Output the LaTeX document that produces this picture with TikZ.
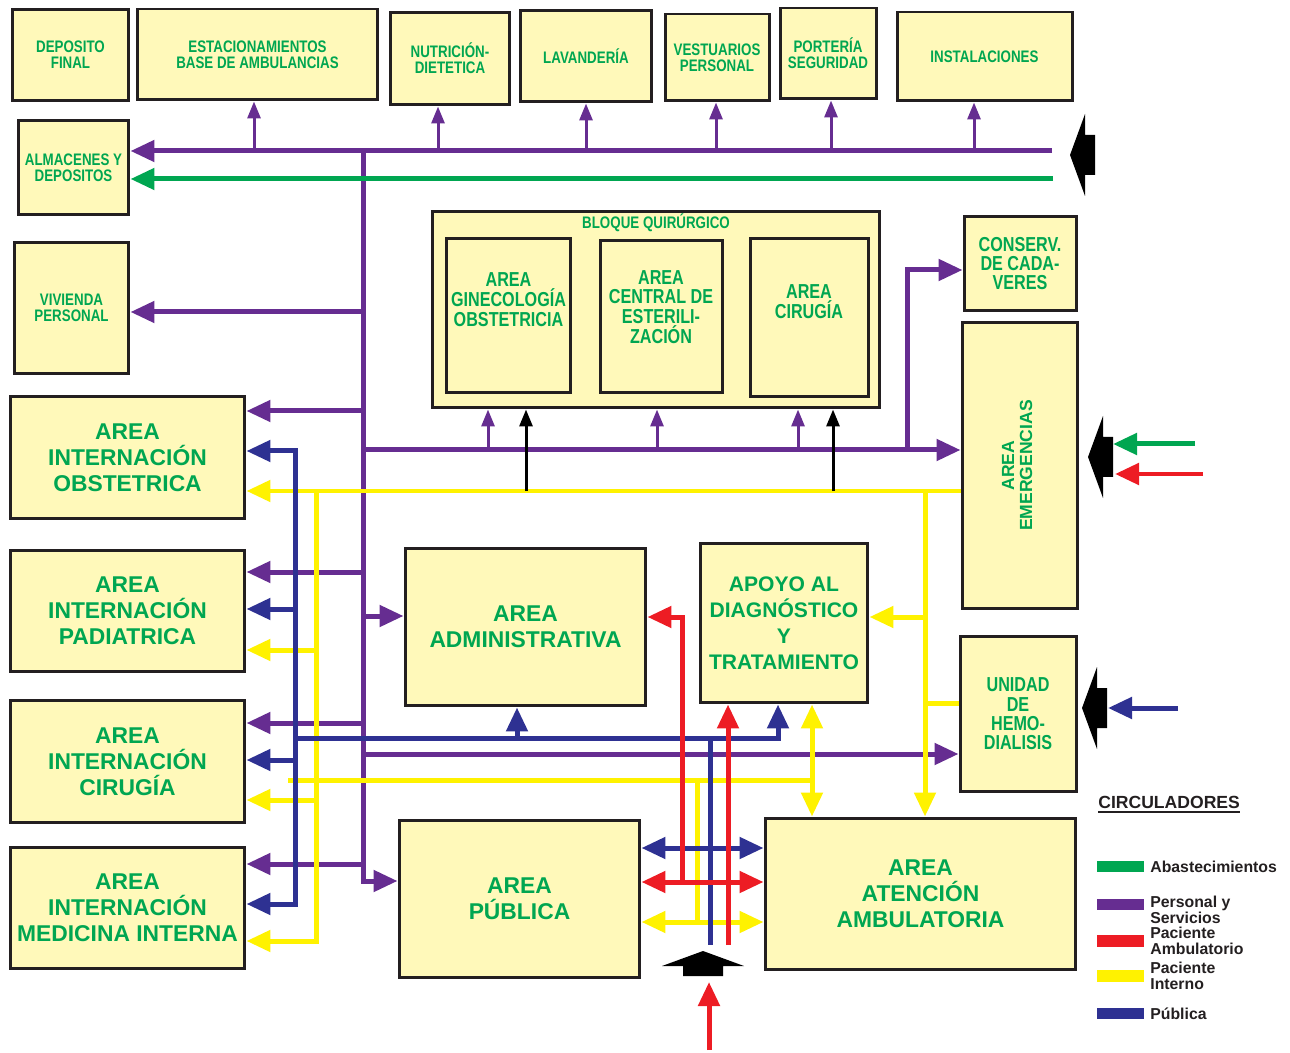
\documentclass[tikz,border=0pt]{standalone}
\usepackage{fontspec}
\setmainfont{Liberation Sans}
\newfontfamily\cond{Liberation Sans}[FakeStretch=0.8]
\usepackage{xcolor}
\usepackage{tikz}
\usetikzlibrary{arrows.meta,positioning}

\definecolor{crema}{RGB}{255,249,186}
\definecolor{borde}{RGB}{35,31,32}
\definecolor{verdetxt}{RGB}{0,166,81}
\definecolor{verde}{RGB}{0,166,81}
\definecolor{morado}{RGB}{102,45,145}
\definecolor{rojo}{RGB}{237,28,36}
\definecolor{amarillo}{RGB}{255,242,0}
\definecolor{azul}{RGB}{46,49,146}

\tikzset{
  zona/.style={draw=borde, line width=0.06cm, fill=crema, text=verdetxt, align=center,
    inner sep=1pt, font=\bfseries\fontsize{13}{14.7}\selectfont},
  zonachica/.style={zona, font=\cond\bfseries\fontsize{9.5}{9.1}\selectfont},
  zonamedia/.style={zona, font=\cond\bfseries\fontsize{11.5}{11}\selectfont},
  rotulo/.style={text=verdetxt, align=center, inner sep=0pt, font=\cond\bfseries\fontsize{11.5}{11.3}\selectfont},
  flujo/.style={line width=0.1cm},
  fino/.style={line width=0.06cm},
  punta/.style={-{Triangle[length=0.48cm,width=0.42cm]}},
  puntas/.style={{Triangle[length=0.48cm,width=0.42cm]}-{Triangle[length=0.48cm,width=0.42cm]}},
  puntita/.style={-{Triangle[length=0.34cm,width=0.26cm]}},
  barra/.style={minimum width=0.94cm, minimum height=0.23cm, inner sep=0pt, outer sep=0pt},
  leyenda/.style={text=borde, align=left, inner sep=0pt, font=\bfseries\fontsize{9}{9.2}\selectfont},
  entrada/.pic={\fill[black] (0,0) -- (15,-41) -- (15,-20) -- (25,-20) -- (25,20) -- (15,20) -- (15,41) -- cycle;}
}

\begin{document}
\begin{tikzpicture}[x=0.02cm,y=-0.02cm]
  \useasboundingbox (0,0) rectangle (1290,1053);

  \node[zonachica, minimum width=2.34cm, minimum height=1.84cm] (depfinal) at (70.5,55) {DEPOSITO\\FINAL};
  \node[zonachica, minimum width=4.82cm, minimum height=1.82cm] (estac) at (257.5,54.5) {ESTACIONAMIENTOS\\BASE DE AMBULANCIAS};
  \node[zonachica, minimum width=2.40cm, minimum height=1.86cm] (nutri) at (450,58.5) {NUTRICIÓN-\\DIETETICA};
  \node[zonachica, minimum width=2.64cm, minimum height=1.84cm] (lavand) at (586,56) {LAVANDERÍA};
  \node[zonachica, minimum width=2.08cm, minimum height=1.74cm] (vestu) at (717,57.5) {VESTUARIOS\\PERSONAL};
  \node[zonachica, minimum width=1.92cm, minimum height=1.82cm] (porte) at (828,53.5) {PORTERÍA\\SEGURIDAD};
  \node[zonachica, minimum width=3.50cm, minimum height=1.78cm] (instal) at (984.5,56.5) {INSTALACIONES};
  \node[zonachica, minimum width=2.22cm, minimum height=1.90cm] (almac) at (73.5,167.5) {ALMACENES Y\\DEPOSITOS};
  \node[zonachica, minimum width=2.30cm, minimum height=2.64cm] (vivienda) at (71.5,308) {VIVIENDA\\PERSONAL};

  \node[zona, minimum width=4.70cm, minimum height=2.46cm] (obst) at (127.5,457.5) {AREA\\INTERNACIÓN\\OBSTETRICA};
  \node[zona, minimum width=4.70cm, minimum height=2.44cm] (pedi) at (127.5,611) {AREA\\INTERNACIÓN\\PADIATRICA};
  \node[zona, minimum width=4.70cm, minimum height=2.46cm] (ciru) at (127.5,761.5) {AREA\\INTERNACIÓN\\CIRUGÍA};
  \node[zona, minimum width=4.70cm, minimum height=2.44cm] (medi) at (127.5,908) {AREA\\INTERNACIÓN\\MEDICINA INTERNA};

  \node[zona, minimum width=8.96cm, minimum height=3.94cm] (bloque) at (656,309.5) {};
  \node[rotulo, font=\cond\bfseries\fontsize{9.5}{9.1}\selectfont] (bloqueTxt) at ([yshift=-0.27cm]bloque.north) {BLOQUE QUIRÚRGICO};
  \node[zona, minimum width=2.50cm, minimum height=3.10cm] (gineco) at (508.5,315.5) {};
  \node[rotulo] (ginecoTxt) at ([yshift=0.31cm]gineco.center) {AREA\\GINECOLOGÍA\\OBSTETRICIA};
  \node[zona, minimum width=2.44cm, minimum height=3.06cm] (ceye) at (661,316.5) {};
  \node[rotulo] (ceyeTxt) at ([yshift=0.19cm]ceye.center) {AREA\\CENTRAL DE\\ESTERILI-\\ZACIÓN};
  \node[zona, minimum width=2.36cm, minimum height=3.18cm] (quirof) at (809,317.5) {};
  \node[rotulo] (quirofTxt) at ([yshift=0.31cm]quirof.center) {AREA\\CIRUGÍA};

  \node[zonamedia, minimum width=2.24cm, minimum height=1.90cm] (conserv) at (1020,263.5) {CONSERV.\\DE CADA-\\VERES};
  \node[zona, minimum width=2.30cm, minimum height=5.74cm, font=\bfseries\fontsize{10}{10.2}\selectfont] (emerg) at (1019.5,465.5)
    {\rotatebox{90}{\begin{tabular}{@{}c@{}}AREA\\EMERGENCIAS\end{tabular}}};
  \node[zona, minimum width=4.82cm, minimum height=3.16cm] (admin) at (525.5,627) {AREA\\ADMINISTRATIVA};
  \node[zona, minimum width=3.36cm, minimum height=3.20cm, font=\bfseries\fontsize{12}{14.7}\selectfont] (apoyo) at (784,623) {APOYO AL\\DIAGNÓSTICO\\Y\\TRATAMIENTO};
  \node[zonamedia, minimum width=2.32cm, minimum height=3.12cm] (hemo) at (1018,714) {UNIDAD\\DE\\HEMO-\\DIALISIS};
  \node[zona, minimum width=4.82cm, minimum height=3.16cm] (publica) at (519.5,899) {AREA\\PÚBLICA};
  \node[zona, minimum width=6.22cm, minimum height=3.04cm] (ambul) at (920.5,894) {AREA\\ATENCIÓN\\AMBULATORIA};

  % personal y servicios
  \coordinate (pE) at (1052,151);
  \coordinate (pJ) at (363,151);
  \coordinate (pB) at (363,881);
  \coordinate (pQ) at (363,450);
  \draw[flujo, morado, punta] (pE) -- (pE -| almac.east);
  \draw[flujo, morado, punta] (pJ) -- (pB) -- (pB -| publica.west);
  \foreach \b/\x in {estac/254, nutri/438, lavand/586, vestu/716, porte/831, instal/974}
    \draw[fino, morado, puntita] (\x,151) -- (\b.south -| \x,0);
  \foreach \b/\y in {vivienda/312, obst/411, pedi/572, ciru/723, medi/864}
    \draw[flujo, morado, punta] (363,\y) -- (\b.east |- 0,\y);
  \draw[flujo, morado, punta] (pQ) -- (pQ -| emerg.west);
  \draw[flujo, morado, punta] (907,450) |- (conserv.west |- 0,270);
  \foreach \x in {488,657,798}
    \draw[fino, morado, puntita] (\x,450) -- (bloque.south -| \x,0);
  \draw[flujo, morado, punta] (363,616) -- (admin.west |- 0,616);
  \draw[flujo, morado, punta] (363,754) -- (hemo.west |- 0,754);

  % abastecimientos
  \draw[flujo, verde, punta] (1053,179) -- (almac.east |- 0,179);

  % paciente interno
  \coordinate (yE) at (emerg.west |- 0,491);
  \draw[flujo, amarillo, punta] (yE) -- (obst.east |- yE);
  \draw[flujo, amarillo, punta] (316,491) -- (316,941) -- (medi.east |- 0,941);
  \foreach \b/\y in {pedi/650, ciru/800}
    \draw[flujo, amarillo, punta] (316,\y) -- (\b.east |- 0,\y);
  \draw[flujo, amarillo, punta] (925,491) -- (ambul.north -| 925,0);
  \draw[flujo, amarillo, punta] (925,617) -- (apoyo.east |- 0,617);
  \draw[flujo, amarillo] (925,703) -- (hemo.west |- 0,703);
  \draw[flujo, amarillo] (288,780) -- (812,780);
  \draw[flujo, amarillo, puntas] (apoyo.south -| 812,0) -- (ambul.north -| 812,0);
  \draw[flujo, amarillo] (697,780) -- (697,922);
  \draw[flujo, amarillo, puntas] (publica.east |- 0,922) -- (ambul.west |- 0,922);
  \foreach \x in {526,833}
    \draw[fino, black, puntita] (\x,491) -- (bloque.south -| \x,0);

  % publica
  \draw[flujo, azul, puntas] (obst.east |- 0,451) -- (295,451) -- (295,904) -- (medi.east |- 0,904);
  \foreach \b/\y in {pedi/609, ciru/760}
    \draw[flujo, azul, punta] (295,\y) -- (\b.east |- 0,\y);
  \draw[flujo, azul, punta] (295,738) -| (apoyo.south -| 778,0);
  \draw[flujo, azul, punta] (517,738) -- (admin.south -| 517,0);
  \draw[flujo, azul] (710,738) -- (710,945);
  \draw[flujo, azul, puntas] (publica.east |- 0,848) -- (ambul.west |- 0,848);

  % paciente ambulatorio
  \draw[flujo, rojo, punta] (682,882) |- (admin.east |- 0,617);
  \draw[flujo, rojo, puntas] (publica.east |- 0,882) -- (ambul.west |- 0,882);
  \draw[flujo, rojo, punta] (728,945) -- (apoyo.south -| 728,0);
  \coordinate (rIn) at (709,1050);
  \coordinate (rOut) at (709,982);
  \draw[flujo, rojo, punta] (rIn) -- (rOut);

  % accesos
  \pic at (1070,155) {entrada};
  \pic at (1088,457) {entrada};
  \pic at (1082,708) {entrada};
  \pic[rotate=-90] at (703,951) {entrada};
  \coordinate (gIn) at (1195,444);
  \coordinate (rE) at (1203,474);
  \coordinate (bIn) at (1178,708);
  \draw[flujo, verde, punta] (gIn) -- (1113,444);
  \draw[flujo, rojo, punta] (rE) -- (1115,474);
  \draw[flujo, azul, punta] (bIn) -- (1108,708);

  % leyenda
  \node[leyenda, font=\bfseries\fontsize{10}{10}\selectfont, anchor=west] (circ) at (1098,802) {CIRCULADORES};
  \draw[line width=0.04cm, borde] ([yshift=-0.07cm]circ.base west) -- ([yshift=-0.07cm]circ.base east);
  \node[barra, fill=verde] (barV) at (1120.5,866.5) {};
  \node[leyenda, right=0.12cm of barV] (txtV) {Abastecimientos};
  \node[barra, fill=morado] (barM) at (1120.5,904.5) {};
  \node[leyenda, right=0.12cm of barM, yshift=-0.1cm] (txtM) {Personal y\\Servicios};
  \node[barra, fill=rojo] (barR) at (1120.5,941) {};
  \node[leyenda, right=0.12cm of barR] (txtR) {Paciente\\Ambulatorio};
  \node[barra, fill=amarillo] (barA) at (1120.5,976) {};
  \node[leyenda, right=0.12cm of barA] (txtA) {Paciente\\Interno};
  \node[barra, fill=azul] (barZ) at (1120.5,1013.5) {};
  \node[leyenda, right=0.12cm of barZ] (txtZ) {Pública};
\end{tikzpicture}
\end{document}
